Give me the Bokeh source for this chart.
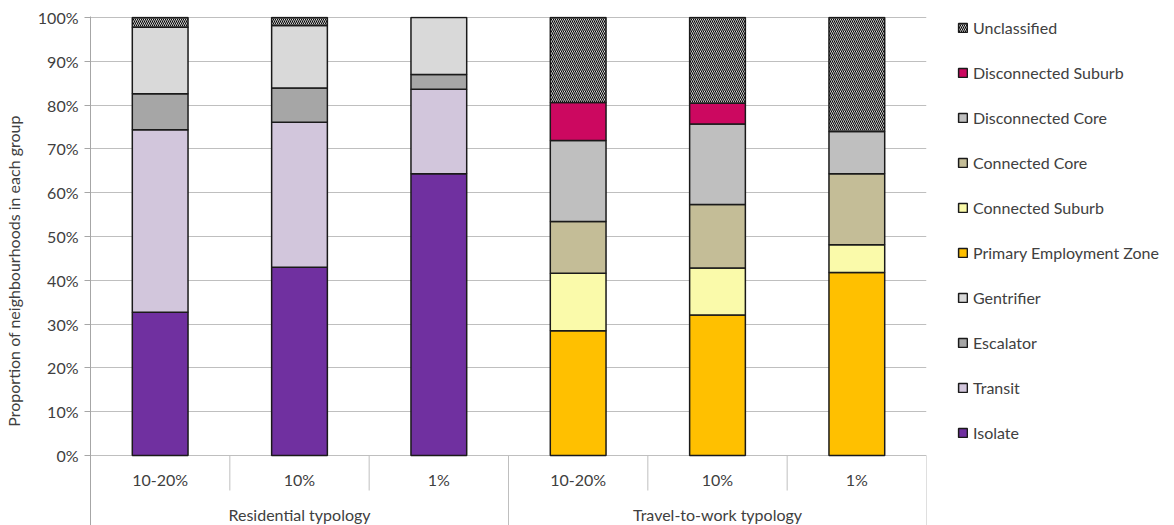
import numpy as np
from bokeh.plotting import figure
from bokeh.models import Range1d, FixedTicker, Legend, LegendItem, ColumnDataSource
from bokeh.core.properties import value
from bokeh.embed import file_html
from bokeh.resources import INLINE

# ---------------- data ----------------
categories = ["10-20%", "10%", "1%", "10-20%", "10%", "1%"]
groups = ["Residential typology"] * 3 + ["Travel-to-work typology"] * 3
group_names = ["Residential typology", "Travel-to-work typology"]

# percentages, stacked bottom -> top
isolate = [32.7, 43.0, 64.3, 0, 0, 0]
transit = [41.7, 33.1, 19.3, 0, 0, 0]
escalator = [8.2, 7.8, 3.4, 0, 0, 0]
gentrifier = [15.2, 14.3, 13.0, 0, 0, 0]
primary_employment_zone = [0, 0, 0, 28.5, 32.1, 41.8]
connected_suburb = [0, 0, 0, 13.1, 10.7, 6.3]
connected_core = [0, 0, 0, 11.8, 14.5, 16.2]
disconnected_core = [0, 0, 0, 18.5, 18.4, 9.7]
disconnected_suburb = [0, 0, 0, 8.7, 4.7, 0]
unclassified = [2.2, 1.8, 0, 19.4, 19.6, 26.0]

series_names = ["Isolate", "Transit", "Escalator", "Gentrifier",
                "Primary Employment Zone", "Connected Suburb", "Connected Core",
                "Disconnected Core", "Disconnected Suburb", "Unclassified"]
series_values = [isolate, transit, escalator, gentrifier,
                 primary_employment_zone, connected_suburb, connected_core,
                 disconnected_core, disconnected_suburb, unclassified]
series_colors = ["#7030A0", "#D2C6DC", "#A6A6A6", "#D9D9D9",
                 "#FFC000", "#FAFAAA", "#C4BD97",
                 "#BFBFBF", "#CC0860", "#FFFFFF"]

y_ticks = [0, 0.1, 0.2, 0.3, 0.4, 0.5, 0.6, 0.7, 0.8, 0.9, 1.0]
y_tick_labels = ["0%", "10%", "20%", "30%", "40%", "50%", "60%", "70%", "80%", "90%", "100%"]

FONT = "Lato"
TEXT_COLOR = "#404040"
FS = "16px"

# ---------------- figure ----------------
px_per_unit = 438.0
p = figure(frame_width=836, frame_height=509,
           x_range=Range1d(0, len(categories)),
           y_range=Range1d(-70.0 / px_per_unit, 1.0 + 1.0 / px_per_unit),
           x_axis_location=None,
           toolbar_location=None, output_backend="svg",
           min_border_left=89, min_border_right=249,
           min_border_top=16, min_border_bottom=0)
p.outline_line_color = None
p.background_fill_color = "white"
p.border_fill_color = "white"

p.xgrid.visible = False
p.ygrid.ticker = FixedTicker(ticks=y_ticks)
p.ygrid.grid_line_color = "#BFBFBF"
p.ygrid.grid_line_width = 1

yax = p.yaxis[0]
yax.ticker = FixedTicker(ticks=y_ticks)
yax.major_label_overrides = {t: l for t, l in zip(y_ticks, y_tick_labels)}
yax.axis_line_color = "#A6A6A6"
yax.major_tick_line_color = "#A6A6A6"
yax.major_tick_out = 6
yax.major_tick_in = 0
yax.minor_tick_line_color = None
yax.major_label_standoff = 6
yax.major_label_text_font = FONT
yax.major_label_text_font_size = FS
yax.major_label_text_color = TEXT_COLOR
yax.axis_label = "Proportion of neighbourhoods in each group"
yax.axis_label_text_font = FONT
yax.axis_label_text_font_size = FS
yax.axis_label_text_font_style = "normal"
yax.axis_label_text_color = TEXT_COLOR
yax.axis_label_standoff = 12

# ---------------- stacked bars ----------------
x = np.arange(len(categories)) + 0.5
bottom = np.zeros(len(categories))
renderers = {}
for name, vals, color in zip(series_names, series_values, series_colors):
    v = np.array(vals, dtype=float) / 100.0
    mask = v > 0
    src = ColumnDataSource(dict(x=x[mask], bottom=bottom[mask], top=(bottom + v)[mask]))
    kw = {}
    if name == "Unclassified":
        kw = dict(hatch_pattern="left_diagonal_line", hatch_color="#000000",
                  hatch_scale=4, hatch_weight=1.1)
    r = p.vbar(x="x", bottom="bottom", top="top", width=0.4, source=src,
               fill_color=color, line_color="#1A1A1A", line_width=1.5, **kw)
    renderers[name] = r
    bottom = bottom + v

# ---------------- category axis (drawn) ----------------
cat_y = -24.0 / px_per_unit
grp_y = -59.0 / px_per_unit
p.text(x=x, y=[cat_y] * len(categories), text=categories,
       text_align="center", text_baseline="middle",
       text_font=value(FONT), text_font_size=FS, text_color=TEXT_COLOR)

grp_x = [float(np.mean([xi for xi, g in zip(x, groups) if g == gn])) for gn in group_names]
p.text(x=grp_x, y=[grp_y] * len(group_names), text=group_names,
       text_align="center", text_baseline="middle",
       text_font=value(FONT), text_font_size=FS, text_color=TEXT_COLOR)

bounds = np.arange(len(categories) + 1)
y_bottom_long = -70.0 / px_per_unit
y_bottom_short = -35.0 / px_per_unit
seg_y1 = []
for b in bounds:
    is_long = b == 0 or b == len(categories) or groups[b - 1] != groups[b]
    seg_y1.append(y_bottom_long if is_long else y_bottom_short)
p.segment(x0=bounds[1:], x1=bounds[1:], y0=[0] * (len(bounds) - 1), y1=seg_y1[1:],
          line_color="#BFBFBF", line_width=1)

# ---------------- legend ----------------
items = [LegendItem(label=n, renderers=[renderers[n]]) for n in reversed(series_names)]
legend = Legend(items=items, location=(31, 83),
                glyph_width=11, glyph_height=11, label_height=20, spacing=25,
                padding=0, margin=0, label_standoff=5,
                border_line_color=None, background_fill_alpha=0,
                label_text_font=FONT, label_text_font_size=FS,
                label_text_color=TEXT_COLOR)
p.add_layout(legend, "right")

open("out.html", "w").write(file_html(p, INLINE))
